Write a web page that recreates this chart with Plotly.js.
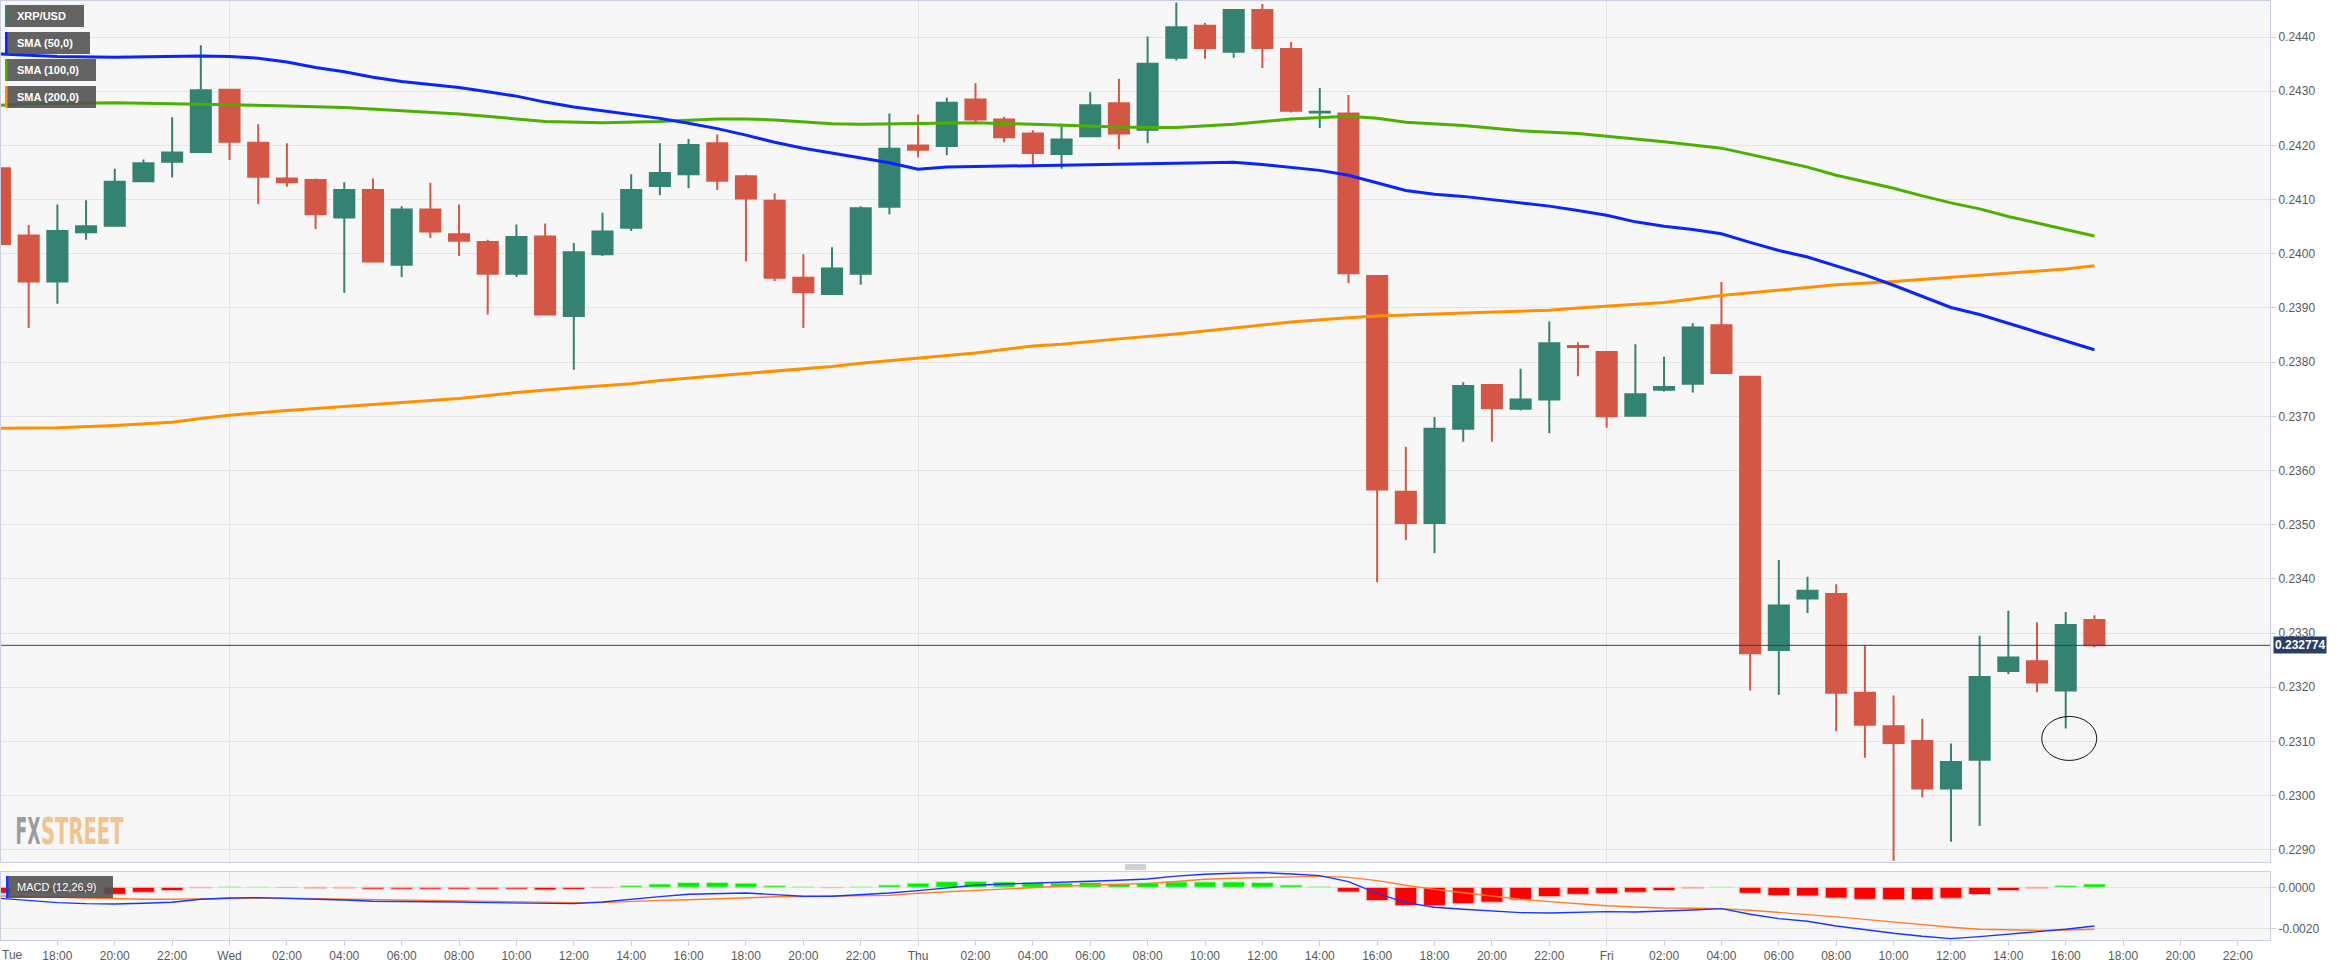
<!DOCTYPE html>
<html><head><meta charset="utf-8">
<script src="https://cdn.plot.ly/plotly-3.0.1.min.js"></script>
<style>html,body{margin:0;padding:0;background:#fff;overflow:hidden}#chart{width:2347px;height:966px}</style>
</head><body><div id="chart"></div>
<script>
// ---------- data ----------
const DAY_DATES = {Tue:'2019-11-19', Wed:'2019-11-20', Thu:'2019-11-21', Fri:'2019-11-22'};

const HOURS = [
 'Tue 16','Tue 17','Tue 18','Tue 19','Tue 20','Tue 21','Tue 22','Tue 23',
 'Wed 00','Wed 01','Wed 02','Wed 03','Wed 04','Wed 05','Wed 06','Wed 07','Wed 08','Wed 09','Wed 10','Wed 11',
 'Wed 12','Wed 13','Wed 14','Wed 15','Wed 16','Wed 17','Wed 18','Wed 19','Wed 20','Wed 21','Wed 22','Wed 23',
 'Thu 00','Thu 01','Thu 02','Thu 03','Thu 04','Thu 05','Thu 06','Thu 07','Thu 08','Thu 09','Thu 10','Thu 11',
 'Thu 12','Thu 13','Thu 14','Thu 15','Thu 16','Thu 17','Thu 18','Thu 19','Thu 20','Thu 21','Thu 22','Thu 23',
 'Fri 00','Fri 01','Fri 02','Fri 03','Fri 04','Fri 05','Fri 06','Fri 07','Fri 08','Fri 09','Fri 10','Fri 11',
 'Fri 12','Fri 13','Fri 14','Fri 15','Fri 16','Fri 17'];

const OPEN = [
 .24158,.24034,.23949,.24040,.24052,.24134,.24170,.24188,
 .24303,.24205,.24139,.24136,.24067,.24118,.23980,.24082,.24036,.24022,.23963,.24032,
 .23885,.23999,.24048,.24125,.24147,.24204,.24143,.24098,.23956,.23926,.23963,.24087,
 .24200,.24199,.24285,.24248,.24222,.24184,.24217,.24278,.24229,.24362,.24421,.24373,
 .24450,.24378,.24261,.24259,.23959,.23561,.23503,.23677,.23758,.23714,.23731,.23830,
 .23819,.23701,.23749,.23760,.23868,.23773,.23269,.23364,.23372,.23190,.23128,.23101,
 .23013,.23066,.23230,.23248,.23194,.23324];
const HIGH = [
 .24161,.24053,.24091,.24099,.24157,.24174,.24252,.24385,
 .24304,.24239,.24204,.24139,.24132,.24139,.24088,.24131,.24091,.24026,.24054,.24056,
 .24020,.24076,.24147,.24204,.24212,.24220,.24146,.24112,.23999,.24012,.24088,.24259,
 .24257,.24288,.24315,.24253,.24228,.24240,.24298,.24323,.24401,.24464,.24426,.24450,
 .24461,.24391,.24306,.24293,.23959,.23644,.23699,.23763,.23758,.23788,.23875,.23837,
 .23819,.23833,.23810,.23872,.23948,.23773,.23435,.23404,.23390,.23278,.23185,.23142,
 .23096,.23295,.23341,.23320,.23339,.23333];
const LOW = [
 .23895,.23863,.23908,.24026,.24052,.24134,.24141,.24188,
 .24173,.24092,.24124,.24046,.23928,.23984,.23957,.24029,.23996,.23888,.23957,.23888,
 .23786,.23996,.24042,.24108,.24121,.24118,.23986,.23950,.23863,.23926,.23943,.24073,
 .24178,.24182,.24243,.24206,.24164,.24157,.24217,.24193,.24204,.24357,.24360,.24362,
 .24343,.24261,.24232,.23946,.23394,.23472,.23448,.23653,.23653,.23711,.23669,.23774,
 .23679,.23701,.23746,.23744,.23780,.23194,.23186,.23337,.23119,.23070,.22880,.22997,
 .22915,.22944,.23224,.23191,.23124,.23274];
const CLOSE = [
 .24018,.23949,.24042,.24051,.24133,.24167,.24187,.24302,
 .24207,.24142,.24132,.24073,.24118,.23986,.24082,.24041,.24024,.23963,.24031,.23888,
 .24003,.24041,.24118,.24149,.24201,.24135,.24102,.23956,.23929,.23973,.24084,.24194,
 .24192,.24279,.24248,.24215,.24186,.24211,.24274,.24222,.24351,.24418,.24380,.24450,
 .24380,.24264,.24262,.23964,.23565,.23503,.23677,.23756,.23715,.23731,.23835,.23828,
 .23700,.23741,.23754,.23864,.23780,.23263,.23351,.23378,.23190,.23131,.23097,.23013,
 .23062,.23219,.23255,.23209,.23315,.232774];

const SMA50_T = ['Tue 16','Tue 17','Tue 18','Tue 20','Tue 22','Tue 23',
 'Wed 00','Wed 01','Wed 02','Wed 03','Wed 04','Wed 05','Wed 06','Wed 07','Wed 08','Wed 09','Wed 10','Wed 11',
 'Wed 12','Wed 13','Wed 14','Wed 15','Wed 16','Wed 17','Wed 18','Wed 19','Wed 20','Wed 21','Wed 22','Wed 23',
 'Thu 00','Thu 01','Thu 02','Thu 03','Thu 04','Thu 05','Thu 06','Thu 07','Thu 08','Thu 09','Thu 10','Thu 11',
 'Thu 12','Thu 13','Thu 14','Thu 15','Thu 16','Thu 17','Thu 18','Thu 19','Thu 20','Thu 21','Thu 22','Thu 23',
 'Fri 00','Fri 01','Fri 02','Fri 03','Fri 04','Fri 05','Fri 06','Fri 07','Fri 08','Fri 09','Fri 10','Fri 11',
 'Fri 12','Fri 13','Fri 14','Fri 15','Fri 16','Fri 17'];
const SMA50 = [.24369,.24366,.24364,.24363,.24364,.24365,
 .24364,.24361,.24354,.24344,.24336,.24326,.24318,.24312,.24307,.24299,.24291,.24280,
 .24271,.24264,.24257,.24250,.24241,.24231,.24219,.24206,.24195,.24186,.24178,.24168,
 .24156,.24160,.24161,.24162,.24163,.24163,.24164,.24166,.24166,.24168,.24169,.24169,
 .24165,.24160,.24154,.24145,.24131,.24117,.24110,.24106,.24100,.24094,.24088,.24080,
 .24071,.24059,.24051,.24045,.24037,.24021,.24006,.23994,.23977,.23961,.23942,.23922,
 .23901,.23888,.23872,.23855,.23839,.23823];

const SMA100_T = ['Tue 16','Tue 17','Tue 20','Tue 22','Wed 00','Wed 02','Wed 04','Wed 06','Wed 08','Wed 10',
 'Wed 11','Wed 13','Wed 15','Wed 17','Wed 18','Wed 19','Wed 21','Wed 22','Thu 00','Thu 02','Thu 04','Thu 05',
 'Thu 07','Thu 08','Thu 09','Thu 11','Thu 13','Thu 15','Thu 16','Thu 17','Thu 19','Thu 21','Thu 23','Fri 00',
 'Fri 02','Fri 04','Fri 05','Fri 06','Fri 07','Fri 08','Fri 09','Fri 10','Fri 11','Fri 12','Fri 13','Fri 14',
 'Fri 15','Fri 16','Fri 17'];
const SMA100 = [.24274,.24277,.24279,.24277,.24276,.24273,.24270,.24264,.24258,.24249,
 .24244,.24242,.24244,.24249,.24249,.24247,.24240,.24239,.24240,.24242,.24239,.24237,
 .24234,.24233,.24233,.24239,.24249,.24254,.24250,.24243,.24237,.24227,.24222,.24217,
 .24207,.24195,.24183,.24171,.24160,.24145,.24133,.24121,.24107,.24094,.24083,.24069,
 .24057,.24045,.24033];

const SMA200_T = ['Tue 16','Tue 18','Tue 20','Tue 22','Tue 23','Wed 00','Wed 02','Wed 04','Wed 06','Wed 08',
 'Wed 10','Wed 12','Wed 14','Wed 15','Wed 17','Wed 19','Wed 21','Wed 22','Wed 23','Thu 00','Thu 02','Thu 04',
 'Thu 05','Thu 07','Thu 09','Thu 11','Thu 13','Thu 15','Thu 16','Thu 18','Thu 20','Thu 22','Thu 23','Fri 00',
 'Fri 02','Fri 04','Fri 06','Fri 08','Fri 10','Fri 12','Fri 14','Fri 16','Fri 17'];
const SMA200 = [.23678,.23679,.23683,.23689,.23696,.23702,.23711,.23718,.23725,.23733,
 .23744,.23753,.23760,.23766,.23775,.23783,.23792,.23798,.23803,.23807,.23817,.23830,
 .23833,.23843,.23852,.23863,.23874,.23882,.23885,.23889,.23892,.23896,.23900,.23903,
 .23910,.23923,.23933,.23943,.23949,.23957,.23965,.23972,.23978];

const MACD_HIST = [
 -0.00029,-0.00023,-0.00021,-0.00024,-0.00034,-0.00024,-0.00016,-0.00003,
 0.00002,0.00001,-0.00001,-0.00005,-0.00004,-0.00009,-0.00009,-0.00009,-0.00009,-0.00009,-0.00009,-0.00013,
 -0.00010,-0.00003,0.00008,0.00016,0.00023,0.00023,0.00020,0.00008,0.00002,-0.00002,0.00002,0.00011,
 0.00020,0.00027,0.00029,0.00026,0.00023,0.00021,0.00023,0.00016,0.00021,0.00026,0.00026,0.00026,
 0.00023,0.00011,0.00003,-0.00023,-0.00064,-0.00089,-0.00089,-0.00079,-0.00072,-0.00061,-0.00045,-0.00034,
 -0.00031,-0.00024,-0.00016,-0.00005,0.00001,-0.00029,-0.00040,-0.00042,-0.00052,-0.00058,-0.00060,-0.00060,
 -0.00053,-0.00035,-0.00016,-0.00006,0.00008,0.00016];
const MACD_LINE = [
 -0.000531,-0.000644,-0.000741,-0.000789,-0.000805,-0.000773,-0.000725,-0.00058,
 -0.000515,-0.000499,-0.000531,-0.000564,-0.000612,-0.000676,-0.000676,-0.000692,-0.000709,-0.000741,-0.000757,-0.000805,
 -0.000789,-0.000709,-0.000564,-0.000451,-0.000338,-0.00029,-0.000274,-0.000354,-0.000435,-0.000435,-0.00037,-0.000274,
 -0.000161,-0.000016,0.000097,0.000161,0.000193,0.000258,0.00029,0.000338,0.000403,0.00054,0.000628,0.000676,
 0.000709,0.000644,0.000564,0.000274,-0.00029,-0.000741,-0.000966,-0.001063,-0.001143,-0.001224,-0.00124,-0.001208,
 -0.001176,-0.001192,-0.001159,-0.001095,-0.001031,-0.001304,-0.001514,-0.001643,-0.001868,-0.002061,-0.002222,-0.002367,
 -0.00248,-0.002383,-0.002271,-0.002174,-0.002029,-0.001868];
const MACD_SIGNAL = [
 -0.00042,-0.00045,-0.00048,-0.00052,-0.00056,-0.00058,-0.00058,-0.00056,
 -0.00053,-0.00053,-0.00053,-0.00055,-0.00060,-0.00062,-0.00063,-0.00064,-0.00066,-0.00068,-0.00069,-0.00072,
 -0.00074,-0.00074,-0.00068,-0.00063,-0.00060,-0.00055,-0.00050,-0.00046,-0.00045,-0.00043,-0.00042,-0.00039,
 -0.00029,-0.00022,-0.00013,-0.00007,0.00000,0.00005,0.00010,0.00014,0.00019,0.00028,0.00039,0.00044,
 0.00048,0.00052,0.00053,0.00048,0.00032,0.00010,-0.00010,-0.00026,-0.00042,-0.00058,-0.00069,-0.00079,
 -0.00089,-0.00095,-0.00100,-0.00101,-0.00103,-0.00111,-0.00121,-0.00132,-0.00143,-0.00155,-0.00168,-0.00182,
 -0.00193,-0.00203,-0.00206,-0.00208,-0.00206,-0.00203];

const DAY_STARTS = ['Wed 00','Thu 00','Fri 00'];
const TICK_CODES = ['Tue 18','Tue 20','Tue 22',
 'Wed 00','Wed 02','Wed 04','Wed 06','Wed 08','Wed 10','Wed 12','Wed 14','Wed 16','Wed 18','Wed 20','Wed 22',
 'Thu 00','Thu 02','Thu 04','Thu 06','Thu 08','Thu 10','Thu 12','Thu 14','Thu 16','Thu 18','Thu 20','Thu 22',
 'Fri 00','Fri 02','Fri 04','Fri 06','Fri 08','Fri 10','Fri 12','Fri 14','Fri 16','Fri 18','Fri 20','Fri 22'];
const TICK_TEXT = ['18:00','20:00','22:00',
 'Wed','02:00','04:00','06:00','08:00','10:00','12:00','14:00','16:00','18:00','20:00','22:00',
 'Thu','02:00','04:00','06:00','08:00','10:00','12:00','14:00','16:00','18:00','20:00','22:00',
 'Fri','02:00','04:00','06:00','08:00','10:00','12:00','14:00','16:00','18:00','20:00','22:00'];
const FIRST_DAY_LABEL = 'Tue';
const LEGEND_LABELS = ['XRP/USD','SMA (50,0)','SMA (100,0)','SMA (200,0)'];
const MACD_LABEL = 'MACD (12,26,9)';
const MARKED_HOUR = 'Fri 16';
const WATERMARK = ['FX', 'STREET'];

// ---------- helpers ----------
function t(code){ const p = code.split(' '); return DAY_DATES[p[0]] + ' ' + p[1] + ':00'; }
const W = 2347, H = 966, ML = 1, MR = 77, MT = 1, MB = 26;
const PW = W - ML - MR, PH = H - MT - MB;
const px = v => (v - ML) / PW;
const py = v => (H - MB - v) / PH;

const X = HOURS.map(t);
const LAST = CLOSE[CLOSE.length - 1];
const markIdx = HOURS.indexOf(MARKED_HOUR);

const GREEN = '#348272', RED = '#d45746';
const AXC = '#c7cfe0', GRID = '#e4e4e4';
const FONT = 'Liberation Sans, Arial, sans-serif';
const XR = ['2019-11-19 16:02:06', '2019-11-22 23:07:12'];

const traces = [
  {type:'candlestick', x:X, open:OPEN, high:HIGH, low:LOW, close:CLOSE, xaxis:'x', yaxis:'y',
   whiskerwidth:0, line:{width:2},
   increasing:{line:{color:GREEN, width:2}, fillcolor:GREEN},
   decreasing:{line:{color:RED, width:2}, fillcolor:RED},
   hoverinfo:'skip', showlegend:false},
  {type:'scatter', mode:'lines', x:SMA200_T.map(t), y:SMA200, xaxis:'x', yaxis:'y',
   line:{color:'#ff9000', width:3}, hoverinfo:'skip', showlegend:false},
  {type:'scatter', mode:'lines', x:SMA100_T.map(t), y:SMA100, xaxis:'x', yaxis:'y',
   line:{color:'#4cb000', width:3}, hoverinfo:'skip', showlegend:false},
  {type:'scatter', mode:'lines', x:SMA50_T.map(t), y:SMA50, xaxis:'x', yaxis:'y',
   line:{color:'#0a24ff', width:3}, hoverinfo:'skip', showlegend:false},
  {type:'bar', x:X, y:MACD_HIST, xaxis:'x2', yaxis:'y2', width:0.76*3600000,
   marker:{color:MACD_HIST.map(v => v >= 0 ? '#00f000' : '#ff0000'),
           line:{color:MACD_HIST.map(v => v >= 0 ? '#b8f5b8' : '#ffbcbc'), width:1}},
   hoverinfo:'skip', showlegend:false},
  {type:'scatter', mode:'lines', x:X, y:MACD_SIGNAL, xaxis:'x2', yaxis:'y2',
   line:{color:'#ff7f27', width:1.4}, hoverinfo:'skip', showlegend:false},
  {type:'scatter', mode:'lines', x:X, y:MACD_LINE, xaxis:'x2', yaxis:'y2',
   line:{color:'#1c34ff', width:1.4}, hoverinfo:'skip', showlegend:false}
];

const shapes = [];
const annotations = [];

// day grid lines in the MACD panel
DAY_STARTS.forEach(d => shapes.push({type:'line', xref:'x2', yref:'y2 domain', x0:t(d), x1:t(d), y0:0, y1:1,
  line:{color:GRID, width:1}, layer:'below'}));

// current price line
shapes.push({type:'line', xref:'paper', yref:'y', x0:0, x1:1, y0:LAST, y1:LAST, line:{color:'#2b3f66', width:1}, layer:'above'});
annotations.push({xref:'paper', yref:'y', x:1, y:LAST, xanchor:'left', yanchor:'middle', xshift:3,
  text:'<b>' + LAST.toFixed(6) + '</b>', showarrow:false, bgcolor:'#2b3f66', borderpad:1,
  font:{family:FONT, size:12, color:'#ffffff'}});

// ellipse marking the long lower wick
shapes.push({type:'circle', xref:'x', yref:'y', xsizemode:'pixel', ysizemode:'pixel',
  xanchor:X[markIdx], yanchor:LOW[markIdx], x0:-24, x1:31, y0:-32, y1:12,
  line:{color:'#111111', width:1}, layer:'above'});

// legend boxes
const LEG_COLORS = [GREEN, '#0a24ff', '#4cb000', '#ff9000'];
const LEG_W = [84, 90, 96, 96];
LEGEND_LABELS.forEach((lab, i) => {
  const top = 5 + i*27, bot = top + 22;
  shapes.push({type:'rect', xref:'paper', yref:'paper', x0:px(5), x1:px(LEG_W[i]), y0:py(bot), y1:py(top),
    fillcolor:'rgba(82,82,82,0.9)', line:{width:0}, layer:'above'});
  shapes.push({type:'rect', xref:'paper', yref:'paper', x0:px(5), x1:px(7.5), y0:py(bot), y1:py(top),
    fillcolor:LEG_COLORS[i], line:{width:0}, layer:'above'});
  annotations.push({xref:'paper', yref:'paper', x:px(15), y:py((top+bot)/2), xanchor:'left', yanchor:'middle',
    text:'<b>' + lab + '</b>', showarrow:false, font:{family:FONT, size:11, color:'#ffffff'}});
});

// MACD label box
shapes.push({type:'rect', xref:'paper', yref:'paper', x0:px(6), x1:px(113), y0:py(898), y1:py(876),
  fillcolor:'rgba(82,82,82,0.9)', line:{width:0}, layer:'above'});
shapes.push({type:'rect', xref:'paper', yref:'paper', x0:px(6), x1:px(8.5), y0:py(898), y1:py(876),
  fillcolor:'#1c34ff', line:{width:0}, layer:'above'});
annotations.push({xref:'paper', yref:'paper', x:px(15), y:py(887), xanchor:'left', yanchor:'middle',
  text:MACD_LABEL, showarrow:false, font:{family:FONT, size:11, color:'#ffffff'}});

// panel drag handle
[865, 867, 869].forEach(yy => shapes.push({type:'line', xref:'paper', yref:'paper', x0:px(1125), x1:px(1146),
  y0:py(yy), y1:py(yy), line:{color:'#a3a3a3', width:1}}));

// first-day label at the left edge
annotations.push({xref:'paper', yref:'paper', x:px(0), y:py(955), xanchor:'left', yanchor:'middle',
  text:FIRST_DAY_LABEL, showarrow:false, font:{family:FONT, size:12, color:'#5a5a5a'}});

// watermark: two words, each squeezed horizontally after drawing
const WM_BOX = [[15, 40, '#9c9c9c'], [41, 124, '#f1c48f']];
WATERMARK.forEach((w, i) => {
  annotations.push({xref:'paper', yref:'paper', x:px((WM_BOX[i][0] + WM_BOX[i][1]) / 2), y:py(831),
    xanchor:'center', yanchor:'middle', text:'<b>' + w + '</b>', showarrow:false,
    font:{family:'DejaVu Sans, sans-serif', size:37, color:WM_BOX[i][2]}});
});

const layout = {
  width:W, height:H, margin:{l:ML, r:MR, t:MT, b:MB},
  paper_bgcolor:'#ffffff', plot_bgcolor:'#f7f7f7',
  showlegend:false, boxgap:0.3, boxgroupgap:0, bargap:0,
  font:{family:FONT, size:12, color:'#5a5a5a'},
  xaxis:{type:'date', range:XR, domain:[0,1], anchor:'y', rangeslider:{visible:false},
    tickmode:'array', tickvals:DAY_STARTS.map(t), showticklabels:false, ticks:'',
    showgrid:true, gridcolor:GRID, gridwidth:1, zeroline:false,
    showline:true, mirror:true, linecolor:AXC, linewidth:1},
  yaxis:{domain:[py(862), 1], anchor:'x', side:'right', range:[0.228775, 0.244666],
    tick0:0, dtick:0.001, tickformat:'.4f', ticks:'outside', ticklen:5, tickcolor:AXC,
    showgrid:true, gridcolor:GRID, zeroline:false, showline:true, mirror:true, linecolor:AXC,
    tickfont:{family:FONT, size:12, color:'#5a5a5a'}},
  xaxis2:{type:'date', range:XR, domain:[0,1], anchor:'y2',
    tickmode:'array', tickvals:TICK_CODES.map(t), ticktext:TICK_TEXT,
    ticks:'outside', ticklen:5, tickcolor:AXC, showgrid:false, zeroline:false,
    showline:true, mirror:true, linecolor:AXC, tickangle:0,
    tickfont:{family:FONT, size:12, color:'#5a5a5a'}},
  yaxis2:{domain:[0, py(872)], anchor:'x2', side:'right', range:[-0.002546, 0.000739],
    tickmode:'array', tickvals:[0, -0.002], ticktext:['0.0000','-0.0020'],
    ticks:'outside', ticklen:5, tickcolor:AXC, showgrid:true, gridcolor:GRID, zeroline:false,
    showline:true, mirror:true, linecolor:AXC,
    tickfont:{family:FONT, size:12, color:'#5a5a5a'}},
  shapes:shapes, annotations:annotations
};

Plotly.newPlot('chart', traces, layout, {displayModeBar:false, staticPlot:true}).then(gd => {
  gd.querySelectorAll('text.annotation-text').forEach(el => {
    const i = WATERMARK.indexOf(el.textContent);
    if (i < 0) return;
    const bb = el.getBBox();
    const target = WM_BOX[i][1] - WM_BOX[i][0];
    const s = target / bb.width;
    const cx = bb.x + bb.width / 2;
    el.setAttribute('transform', 'translate(' + cx + ',0) scale(' + s + ',1) translate(' + (-cx) + ',0)');
  });
});
</script>
</body></html>
